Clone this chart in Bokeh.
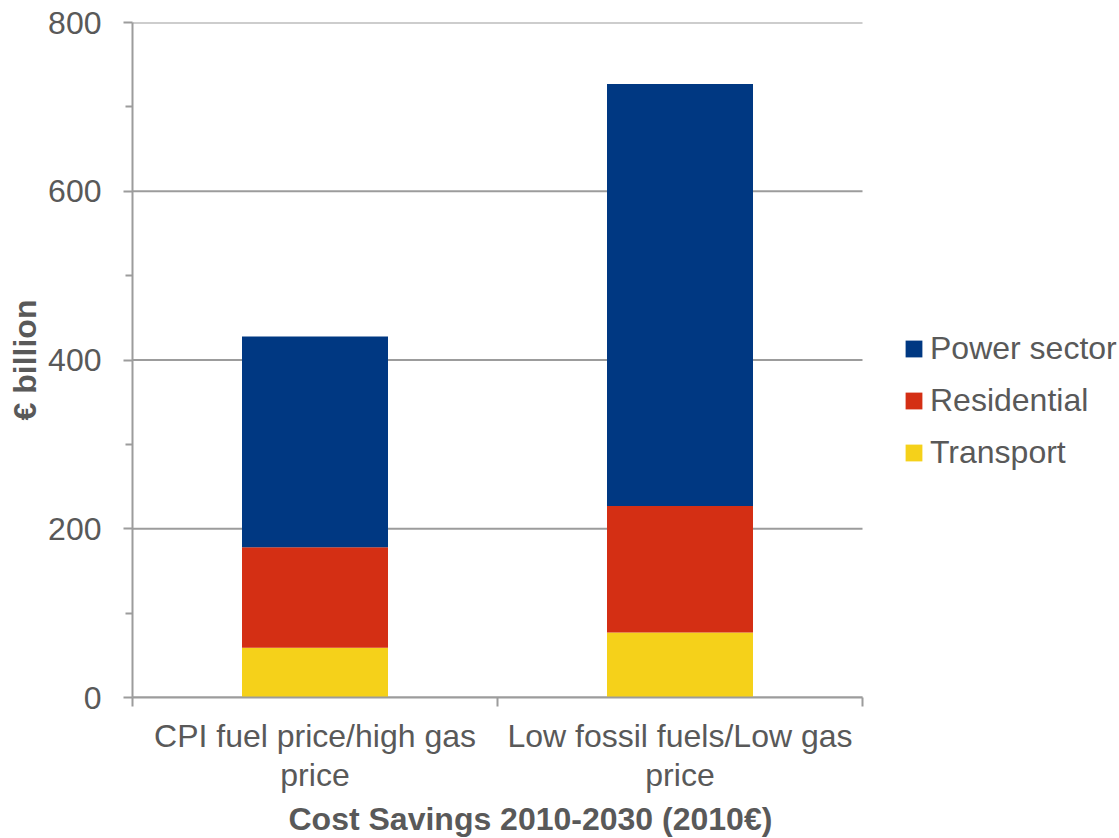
from bokeh.plotting import figure
from bokeh.models import (ColumnDataSource, Range1d, FixedTicker, Legend, LegendItem, Title)
from bokeh.embed import file_html
from bokeh.resources import INLINE

# ---- data ----
categories = ["CPI fuel price/high gas price", "Low fossil fuels/Low gas price"]
category_tick_labels = ["CPI fuel price/high gas\nprice", "Low fossil fuels/Low gas\nprice"]
transport = [59, 77]
residential = [119, 150]
power_sector = [250, 500]
series_names = ["Transport", "Residential", "Power sector"]
series_colors = ["#F5D11A", "#D42F14", "#003882"]
y_ticks = [0, 200, 400, 600, 800]
y_minor_ticks = [100, 300, 500, 700]

FONT = "Liberation Sans"
TXT = "#595959"
AX = "#9C9C9C"
LW = 2
FS = "32px"

n = len(categories)
# the plotting frame extends to the right edge so the legend can sit inside it;
# the category area itself occupies 730 px of the 987 px frame
X_END = n * 987 / 730

xpos = [i + 0.5 for i in range(n)]
src = ColumnDataSource(dict(x=xpos, cat=categories, Transport=transport,
                            Residential=residential, **{"Power sector": power_sector}))
grid_src = ColumnDataSource(dict(y=y_ticks, x0=[0] * len(y_ticks), x1=[n] * len(y_ticks)))

p = figure(width=1119, height=838, output_backend="svg", toolbar_location=None,
           x_range=Range1d(0, X_END), y_range=Range1d(0, 800),
           min_border_left=132, min_border_right=0, min_border_top=22, min_border_bottom=141)
p.outline_line_color = None
p.background_fill_color = "white"
p.border_fill_color = "white"
p.xgrid.grid_line_color = None
p.ygrid.grid_line_color = None

# horizontal gridlines limited to the category area
p.segment(x0="x0", x1="x1", y0="y", y1="y", source=grid_src,
          line_color=AX, line_width=LW, level="underlay")

rs = p.vbar_stack(series_names, x="x", width=0.4, source=src, color=series_colors, line_color=None)

# y axis
ya = p.yaxis[0]
ya.ticker = FixedTicker(ticks=y_ticks, minor_ticks=y_minor_ticks)
ya.axis_line_color = AX
ya.axis_line_width = LW
ya.major_tick_line_color = AX
ya.major_tick_line_width = LW
ya.major_tick_out = 9
ya.major_tick_in = 0
ya.minor_tick_line_color = AX
ya.minor_tick_line_width = LW
ya.minor_tick_out = 7
ya.minor_tick_in = 0
ya.major_label_text_font = FONT
ya.major_label_text_font_size = FS
ya.major_label_text_color = TXT
ya.major_label_standoff = 22
ya.axis_label = "€ billion"
ya.axis_label_text_font = FONT
ya.axis_label_text_font_size = FS
ya.axis_label_text_font_style = "bold"
ya.axis_label_text_color = TXT
ya.axis_label_standoff = 2

# x axis
xa = p.xaxis[0]
xa.bounds = (0, n)
xa.ticker = FixedTicker(ticks=xpos, minor_ticks=list(range(n + 1)))
xa.major_label_overrides = {x: lab for x, lab in zip(xpos, category_tick_labels)}
xa.axis_line_color = AX
xa.axis_line_width = LW
xa.major_tick_line_color = None
xa.major_tick_out = 0
xa.major_tick_in = 0
xa.minor_tick_line_color = AX
xa.minor_tick_line_width = LW
xa.minor_tick_out = 9
xa.minor_tick_in = 0
xa.major_label_text_font = FONT
xa.major_label_text_font_size = FS
xa.major_label_text_color = TXT
xa.major_label_text_line_height = 1.1
xa.major_label_standoff = 11

# x-axis title (offset to match the reference's placement)
xt = Title(text="Cost Savings 2010-2030 (2010€)", align="left", offset=156,
           text_font=FONT, text_font_size=FS, text_font_style="bold",
           text_color=TXT, standoff=4)
p.add_layout(xt, "below")

# legend (inside the extended frame, to the right of the category area)
items = [LegendItem(label=nm, renderers=[r]) for nm, r in zip(series_names, rs)][::-1]
legend = Legend(items=items, location=(771, 219), orientation="vertical",
                glyph_width=21, glyph_height=21, label_height=52, spacing=0,
                label_standoff=6, padding=0, margin=0,
                border_line_color=None, background_fill_alpha=0,
                label_text_font=FONT, label_text_font_size=FS, label_text_color=TXT)
p.add_layout(legend, "center")

open("out.html", "w").write(file_html(p, INLINE))
